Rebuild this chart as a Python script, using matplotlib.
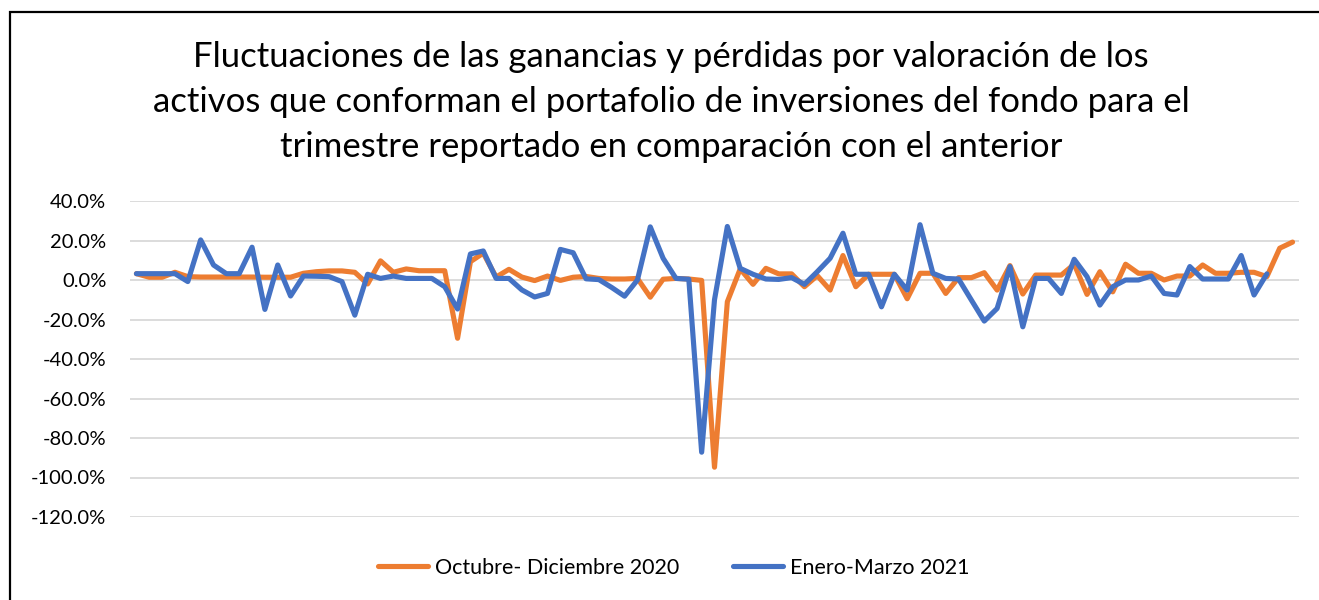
import matplotlib
matplotlib.use("Agg")
import matplotlib.pyplot as plt
from matplotlib.ticker import FuncFormatter, FixedLocator
from matplotlib.patches import Rectangle

title_lines = [
    "Fluctuaciones de las ganancias y pérdidas por valoración de los",
    "activos que conforman el portafolio de inversiones del fondo para el",
    "trimestre reportado en comparación con el anterior",
]
series_names = ["Octubre- Diciembre 2020", "Enero-Marzo 2021"]

oct_dic_2020 = [
    3.2, 1.4, 1.4, 3.9, 1.7, 1.5, 1.5, 1.5, 1.5, 1.5,
    1.4, 1.4, 1.4, 3.4, 4.2, 4.6, 4.6, 3.9, -2.0, 9.7,
    3.9, 5.6, 4.7, 4.7, 4.7, -29.5, 9.3, 13.6, 1.5, 5.4,
    1.5, -0.3, 2.0, -0.2, 1.4, 1.8, 0.8, 0.5, 0.5, 0.8,
    -8.7, 0.4, 0.8, 0.5, -0.2, -94.8, -11.0, 5.6, -2.2, 5.9,
    3.1, 3.1, -3.4, 2.2, -5.1, 12.4, -3.4, 2.9, 2.9, 2.9,
    -9.5, 3.4, 3.4, -6.8, 1.2, 1.2, 3.7, -5.1, 7.3, -7.1,
    2.5, 2.5, 2.5, 8.0, -7.3, 4.2, -6.0, 8.0, 3.4, 3.4,
    0.0, 2.0, 2.0, 7.6, 3.4, 3.4, 3.9, 3.9, 1.7, 16.1,
    19.2,
]
ene_mar_2021 = [
    3.2, 3.2, 3.2, 3.2, -0.8, 20.3, 7.6, 3.2, 3.2, 16.6,
    -14.9, 7.6, -8.1, 2.0, 1.9, 1.7, -0.8, -17.8, 2.9, 0.8,
    2.0, 0.8, 0.8, 0.8, -3.4, -14.7, 13.2, 14.7, 0.8, 0.8,
    -5.0, -8.6, -6.8, 15.5, 13.8, 0.6, 0.2, -3.8, -8.2, 0.0,
    26.9, 11.0, 0.8, 0.4, -87.2, -10.0, 27.1, 5.9, 2.9, 0.5,
    0.3, 1.2, -2.2, 4.2, 11.0, 23.7, 2.9, 2.9, -13.6, 2.9,
    -5.1, 28.0, 3.4, 0.8, 0.5, -10.2, -20.8, -14.4, 6.8, -23.7,
    0.8, 0.8, -6.8, 10.5, 1.7, -12.7, -3.4, 0.0, 0.0, 2.0,
    -6.8, -7.6, 6.8, 0.5, 0.5, 0.5, 12.4, -7.6, 3.1,
]
y_ticks = [40, 20, 0, -20, -40, -60, -80, -100, -120]

plt.rcParams['font.family'] = ['Lato', 'DejaVu Sans']

W, H = 1319, 600
fig = plt.figure(figsize=(W / 100, H / 100), dpi=100)
ax = fig.add_axes([130 / W, 83 / H, 1169 / W, 316 / H])

x_oct = list(range(len(oct_dic_2020)))
x_ene = list(range(len(ene_mar_2021)))
ax.plot(x_oct, oct_dic_2020, color="#ED7D31", lw=3.7, solid_joinstyle="round",
        solid_capstyle="round", label=series_names[0], zorder=3)
ax.plot(x_ene, ene_mar_2021, color="#4472C4", lw=3.7, solid_joinstyle="round",
        solid_capstyle="round", label=series_names[1], zorder=4)

n = len(oct_dic_2020)
ax.set_xlim(-0.5, n - 0.5)
ax.set_ylim(-120, 40)
ax.yaxis.set_major_locator(FixedLocator(y_ticks))
ax.yaxis.set_major_formatter(FuncFormatter(lambda v, p: f"{v:.1f}%"))
ax.set_xticks([])
ax.grid(axis="y", color="#d9d9d9", lw=1.3, zorder=0)
ax.set_axisbelow(True)
for s in ax.spines.values():
    s.set_visible(False)
ax.tick_params(axis="y", length=0, pad=17, labelsize=14.5, labelcolor="#000000")
for ln in ax.lines:
    ln.set_clip_on(False)

tx = 671 / W
for i, t in enumerate(title_lines):
    fig.text(tx, 1 - (57 + 45 * i) / H, t, ha="center", va="center",
             fontsize=25, color="#000000")

leg = fig.legend(loc="center", bbox_to_anchor=(674 / W, 1 - 568 / H), ncol=2,
                 frameon=False, fontsize=15.5, handlelength=2.3,
                 columnspacing=2.5, handletextpad=0.35)

fig.patches.append(Rectangle((10 / W, -0.1), 1.2, 1.1 - 12 / H, transform=fig.transFigure,
                             fill=False, edgecolor="black", lw=1.6, zorder=10))

fig.savefig("out.png", dpi=100)
